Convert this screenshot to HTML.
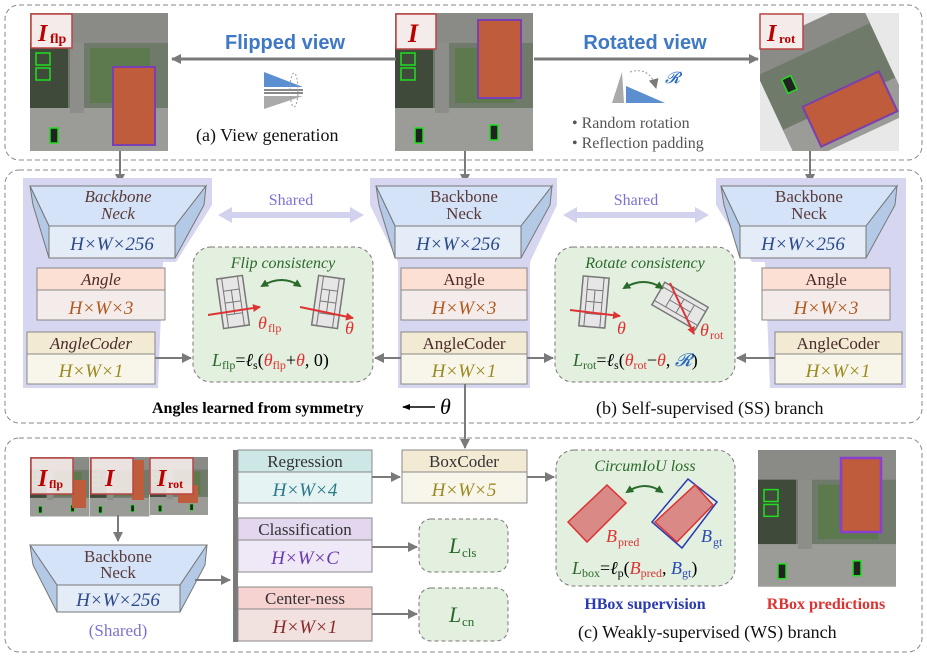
<!DOCTYPE html>
<html><head><meta charset="utf-8"><style>
html,body{margin:0;padding:0;background:#fff}
svg{display:block}
text{font-family:"Liberation Serif",serif}
</style></head><body>
<svg width="927" height="657" viewBox="0 0 927 657" xmlns="http://www.w3.org/2000/svg">
<defs>
<marker id="ah" markerWidth="10" markerHeight="10" refX="9" refY="5" orient="auto" markerUnits="userSpaceOnUse"><path d="M0,0 L10,5 L0,10 z" fill="#7a7a7a"/></marker>
<marker id="ahr" markerWidth="8" markerHeight="8" refX="7" refY="4" orient="auto" markerUnits="userSpaceOnUse"><path d="M0,0 L8,4 L0,8 z" fill="#d33"/></marker>
<marker id="ahg" markerWidth="8" markerHeight="8" refX="6" refY="4" orient="auto-start-reverse" markerUnits="userSpaceOnUse"><path d="M0,0 L8,4 L0,8 z" fill="#2a6a2a"/></marker>
<marker id="ahk" markerWidth="8" markerHeight="8" refX="7" refY="4" orient="auto" markerUnits="userSpaceOnUse"><path d="M0,1 L8,4 L0,7 z" fill="#000"/></marker>
<clipPath id="rotclip"><rect x="760" y="13" width="139" height="138"/></clipPath>
<g id="sat">
<rect x="0" y="0" width="138" height="138" fill="#6f7a6a"/>
<rect x="0" y="0" width="138" height="30" fill="#8a8a86"/>
<rect x="0" y="95" width="138" height="43" fill="#9b9b97"/>
<rect x="40" y="30" width="14" height="70" fill="#8d8d8a"/>
<rect x="60" y="35" width="60" height="55" fill="#5d7a4e"/>
<rect x="0" y="30" width="38" height="65" fill="#3f4a3a"/>
<rect x="6" y="40" width="14" height="12" fill="none" stroke="#2d2" stroke-width="1.5"/>
<rect x="6" y="55" width="14" height="12" fill="none" stroke="#2d2" stroke-width="1.5"/>
<rect x="20" y="115" width="8" height="15" fill="#222" stroke="#2d2" stroke-width="1.5"/>
<rect x="95" y="112" width="8" height="15" fill="#222" stroke="#2d2" stroke-width="1.5"/>
</g>
<g id="court"><rect x="-13" y="-25" width="26" height="50" fill="#e6e6e6" stroke="#777" stroke-width="1.5"/><line x1="-8" y1="-25" x2="-8" y2="25" stroke="#777"/><line x1="8" y1="-25" x2="8" y2="25" stroke="#777"/><line x1="-8" y1="-12" x2="8" y2="-12" stroke="#777"/><line x1="-8" y1="12" x2="8" y2="12" stroke="#777"/><line x1="0" y1="-12" x2="0" y2="12" stroke="#777"/><line x1="-8" y1="0" x2="8" y2="0" stroke="#777"/></g>
<g id="bb">
<polygon points="30,186 206,186 175,226 49,226" fill="#d4e3f7" stroke="#777"/>
<polygon points="30,186 49,226 49,258 33,205" fill="#b3c9e6" stroke="#777"/>
<polygon points="206,186 204,205 175,258 175,226" fill="#b3c9e6" stroke="#777"/>
<rect x="49" y="226" width="126" height="32" fill="#e4ecf8" stroke="#777"/>
</g>
</defs>

<!-- Panels -->
<rect x="5" y="5" width="917" height="155" rx="14" fill="none" stroke="#888" stroke-dasharray="5,3"/>
<rect x="5" y="170" width="917" height="253" rx="14" fill="none" stroke="#888" stroke-dasharray="5,3"/>
<rect x="5" y="438" width="917" height="214" rx="14" fill="none" stroke="#888" stroke-dasharray="5,3"/>

<!-- Top images -->
<g transform="translate(30,13)"><use href="#sat"/><rect x="83" y="54" width="42" height="78" fill="#bf5c3b" stroke="#7a3fb0" stroke-width="2"/></g>
<rect x="31" y="14" width="41" height="34" fill="#f4ecea" stroke="#b44" stroke-width="1.5"/>
<text x="38" y="41" font-size="24" font-weight="bold" font-style="italic" fill="#b00">I</text><text x="50" y="43" font-size="14" font-weight="bold" fill="#b00">flp</text>

<g transform="translate(395,13)"><use href="#sat"/><rect x="83" y="7" width="43" height="78" fill="#bf5c3b" stroke="#7a3fb0" stroke-width="2"/></g>
<rect x="396" y="14" width="40" height="35" fill="#f4ecea" stroke="#b44" stroke-width="1.5"/>
<text x="408" y="42" font-size="26" font-weight="bold" font-style="italic" fill="#b00">I</text>

<rect x="760" y="13" width="139" height="138" fill="#e8e8e8"/>
<g clip-path="url(#rotclip)">
<g transform="translate(829,82) rotate(-25) translate(-62,-62)"><rect width="124" height="124" fill="#6f7a6a"/><rect x="0" y="0" width="124" height="26" fill="#8a8a86"/><rect x="0" y="86" width="124" height="38" fill="#9b9b97"/><rect x="20" y="40" width="10" height="15" fill="#222" stroke="#2d2" stroke-width="1.5"/></g>
<g transform="translate(850,109) rotate(-25)"><rect x="-42" y="-22" width="84" height="44" fill="#bf5c3b" stroke="#7a3fb0" stroke-width="2"/></g>
</g>
<rect x="760" y="14" width="43" height="35" fill="#f4ecea" stroke="#b44" stroke-width="1.5"/>
<text x="767" y="41" font-size="24" font-weight="bold" font-style="italic" fill="#b00">I</text><text x="779" y="43" font-size="13" font-weight="bold" fill="#b00">rot</text>

<!-- Top arrows -->
<line x1="396" y1="59" x2="172" y2="59" stroke="#7a7a7a" stroke-width="3" marker-end="url(#ah)"/>
<line x1="534" y1="59" x2="758" y2="59" stroke="#7a7a7a" stroke-width="3" marker-end="url(#ah)"/>
<text x="285" y="49" font-size="20" font-weight="bold" fill="#3f78c4" text-anchor="middle" style="font-family:'Liberation Sans',sans-serif">Flipped view</text>
<text x="645" y="49" font-size="20" font-weight="bold" fill="#3f78c4" text-anchor="middle" style="font-family:'Liberation Sans',sans-serif">Rotated view</text>
<!-- flip icon -->
<path d="M264,72 L264,87 L303,87 Z" fill="#5b8fd0"/>
<rect x="264" y="89" width="39" height="2" fill="#888"/><rect x="264" y="92" width="39" height="2" fill="#888"/>
<path d="M264,96 L303,96 L264,109 Z" fill="#aaa"/>
<ellipse cx="294" cy="90" rx="4" ry="17" fill="none" stroke="#999" stroke-dasharray="2,2"/>
<!-- rotate icon -->
<path d="M612,103 L622,72 L624,103 Z" fill="#aaa"/>
<path d="M626,103 L626,86 L665,103 Z" fill="#5b8fd0"/>
<path d="M630,72 Q650,66 656,88" fill="none" stroke="#999" stroke-dasharray="2,2" marker-end="url(#ah)"/>
<text x="665" y="83" font-size="16" font-style="italic" fill="#2a6ac0">𝓡</text>
<text x="196" y="141" font-size="18" fill="#111">(a) View generation</text>
<text x="572" y="128" font-size="16" fill="#555">• Random rotation</text>
<text x="572" y="148" font-size="16" fill="#555">• Reflection padding</text>

<!-- connectors down -->
<line x1="120" y1="151" x2="120" y2="183" stroke="#7a7a7a" stroke-width="2" marker-end="url(#ah)"/>
<line x1="465" y1="151" x2="465" y2="183" stroke="#7a7a7a" stroke-width="2" marker-end="url(#ah)"/>
<line x1="810" y1="151" x2="810" y2="183" stroke="#7a7a7a" stroke-width="2" marker-end="url(#ah)"/>

<!-- Purple backgrounds -->
<polygon points="23,178 212,178 212,205 176,262 163,262 158,388 23,388" fill="#d6d6f0"/>
<polygon points="370,178 557,178 557,205 530,262 530,388 398,388 398,262 370,205" fill="#d6d6f0"/>
<polygon points="716,178 906,178 906,388 770,388 765,262 752,262 716,205" fill="#d6d6f0"/>

<use href="#bb"/>
<use href="#bb" transform="translate(346,0)"/>
<use href="#bb" transform="translate(691,0)"/>
<g font-size="17" text-anchor="middle" fill="#5a3a3a">
<text x="118" y="202" font-style="italic">Backbone</text><text x="118" y="219" font-style="italic">Neck</text>
<text x="464" y="202">Backbone</text><text x="464" y="219">Neck</text>
<text x="809" y="202">Backbone</text><text x="809" y="219">Neck</text>
</g>
<g font-size="19" text-anchor="middle" fill="#2b4a8a" font-style="italic">
<text x="112" y="250">H×W×256</text><text x="458" y="250">H×W×256</text><text x="803" y="250">H×W×256</text>
</g>

<!-- Angle/AngleCoder boxes -->
<g stroke="#888">
<rect x="37" y="268" width="128" height="22" fill="#fde0d4"/><rect x="37" y="290" width="128" height="30" fill="#f4ecea"/>
<rect x="27" y="332" width="128" height="22" fill="#f2ead2"/><rect x="27" y="354" width="128" height="30" fill="#f8f6ea"/>
<rect x="401" y="268" width="126" height="22" fill="#fde0d4"/><rect x="401" y="290" width="126" height="30" fill="#f4ecea"/>
<rect x="401" y="332" width="126" height="22" fill="#f2ead2"/><rect x="401" y="354" width="126" height="30" fill="#f8f6ea"/>
<rect x="762" y="268" width="128" height="22" fill="#fde0d4"/><rect x="762" y="290" width="128" height="30" fill="#f4ecea"/>
<rect x="775" y="332" width="127" height="22" fill="#f2ead2"/><rect x="775" y="354" width="127" height="30" fill="#f8f6ea"/>
</g>
<g font-size="17" text-anchor="middle" fill="#4a2a2a">
<text x="101" y="285" font-style="italic">Angle</text><text x="91" y="349" font-style="italic">AngleCoder</text>
<text x="464" y="285">Angle</text><text x="464" y="349">AngleCoder</text>
<text x="826" y="285">Angle</text><text x="838" y="349">AngleCoder</text>
</g>
<g font-size="19" text-anchor="middle" font-style="italic">
<text x="101" y="314" fill="#b05a20">H×W×3</text><text x="91" y="377" fill="#9a8a20">H×W×1</text>
<text x="464" y="314" fill="#b05a20">H×W×3</text><text x="464" y="377" fill="#9a8a20">H×W×1</text>
<text x="826" y="314" fill="#b05a20">H×W×3</text><text x="838" y="377" fill="#9a8a20">H×W×1</text>
</g>

<!-- Shared arrows -->
<path d="M218,215 L232,207 L232,212 L350,212 L350,207 L364,215 L350,223 L350,218 L232,218 L232,223 Z" fill="#d2d2ef"/>
<path d="M563,215 L577,207 L577,212 L695,212 L695,207 L709,215 L695,223 L695,218 L577,218 L577,223 Z" fill="#d2d2ef"/>
<text x="291" y="205" font-size="16" fill="#7a72d0" text-anchor="middle">Shared</text>
<text x="636" y="205" font-size="16" fill="#7a72d0" text-anchor="middle">Shared</text>

<!-- Flip consistency -->
<rect x="193" y="247" width="180" height="135" rx="18" fill="#e3efdf" stroke="#777" stroke-dasharray="4,3"/>
<text x="283" y="268" font-size="16" font-style="italic" fill="#2a6a2a" text-anchor="middle">Flip consistency</text>
<use href="#court" transform="translate(233,302) rotate(-8)"/>
<use href="#court" transform="translate(328,302) rotate(8)"/>
<line x1="208" y1="315" x2="260" y2="307" stroke="#d33" stroke-width="2" marker-end="url(#ahr)"/>
<line x1="300" y1="307" x2="353" y2="318" stroke="#d33" stroke-width="2" marker-end="url(#ahr)"/>
<path d="M262,286 Q282,274 300,286" fill="none" stroke="#2a6a2a" stroke-width="2" marker-start="url(#ahg)" marker-end="url(#ahg)"/>
<text x="258" y="329" font-size="18" font-style="italic" fill="#d33">θ</text><text x="268" y="332" font-size="12" fill="#d33">flp</text>
<text x="345" y="334" font-size="18" font-style="italic" fill="#d33">θ</text>
<text x="212" y="366" font-size="18"><tspan fill="#2a6a2a" font-style="italic">L</tspan><tspan fill="#2a6a2a" font-size="12" dy="3">flp</tspan><tspan dy="-3">=</tspan><tspan font-style="italic">ℓ</tspan><tspan font-size="12" dy="3">s</tspan><tspan dy="-3">(</tspan><tspan fill="#d33" font-style="italic">θ</tspan><tspan fill="#d33" font-size="12" dy="3">flp</tspan><tspan dy="-3">+</tspan><tspan fill="#d33" font-style="italic">θ</tspan><tspan>, 0)</tspan></text>

<!-- Rotate consistency -->
<rect x="555" y="247" width="180" height="135" rx="18" fill="#e3efdf" stroke="#777" stroke-dasharray="4,3"/>
<text x="645" y="268" font-size="16" font-style="italic" fill="#2a6a2a" text-anchor="middle">Rotate consistency</text>
<use href="#court" transform="translate(594,302) rotate(5)"/>
<use href="#court" transform="translate(680,306) rotate(-60)"/>
<line x1="570" y1="310" x2="620" y2="316" stroke="#d33" stroke-width="2" marker-end="url(#ahr)"/>
<line x1="670" y1="283" x2="694" y2="334" stroke="#d33" stroke-width="2" marker-end="url(#ahr)"/>
<path d="M624,288 Q644,276 662,288" fill="none" stroke="#2a6a2a" stroke-width="2" marker-start="url(#ahg)" marker-end="url(#ahg)"/>
<text x="617" y="334" font-size="18" font-style="italic" fill="#d33">θ</text>
<text x="700" y="336" font-size="18" font-style="italic" fill="#d33">θ</text><text x="710" y="339" font-size="12" fill="#d33">rot</text>
<text x="573" y="366" font-size="18"><tspan fill="#2a6a2a" font-style="italic">L</tspan><tspan fill="#2a6a2a" font-size="12" dy="3">rot</tspan><tspan dy="-3">=</tspan><tspan font-style="italic">ℓ</tspan><tspan font-size="12" dy="3">s</tspan><tspan dy="-3">(</tspan><tspan fill="#d33" font-style="italic">θ</tspan><tspan fill="#d33" font-size="12" dy="3">rot</tspan><tspan dy="-3">−</tspan><tspan fill="#d33" font-style="italic">θ</tspan><tspan>, </tspan><tspan fill="#2a6ac0" font-style="italic">𝓡</tspan><tspan>)</tspan></text>

<!-- arrows into consistency boxes -->
<line x1="155" y1="358" x2="191" y2="358" stroke="#7a7a7a" stroke-width="2" marker-end="url(#ah)"/>
<line x1="401" y1="358" x2="375" y2="358" stroke="#7a7a7a" stroke-width="2" marker-end="url(#ah)"/>
<line x1="527" y1="358" x2="553" y2="358" stroke="#7a7a7a" stroke-width="2" marker-end="url(#ah)"/>
<line x1="775" y1="358" x2="737" y2="358" stroke="#7a7a7a" stroke-width="2" marker-end="url(#ah)"/>

<text x="152" y="413" font-size="16" font-weight="bold" fill="#000">Angles learned from symmetry</text>
<line x1="435" y1="407" x2="403" y2="407" stroke="#000" stroke-width="1.5" marker-end="url(#ahk)"/>
<text x="440" y="414" font-size="22" font-style="italic">θ</text>
<text x="596" y="414" font-size="18" fill="#111">(b) Self-supervised (SS) branch</text>
<line x1="465" y1="384" x2="465" y2="448" stroke="#7a7a7a" stroke-width="2" marker-end="url(#ah)"/>

<!-- Bottom panel -->
<g transform="translate(30,457) scale(0.43)"><use href="#sat"/></g>
<g transform="translate(90,457) scale(0.43)"><use href="#sat"/></g>
<g transform="translate(150,457) scale(0.42)"><use href="#sat"/></g>
<rect x="72" y="480" width="14" height="28" fill="#bf5c3b"/><rect x="132" y="460" width="12" height="40" fill="#bf5c3b"/><rect x="178" y="485" width="20" height="18" fill="#bf5c3b"/>
<g stroke="#b44" stroke-width="1.5" fill="#f4ecea" fill-opacity="0.9">
<rect x="31" y="458" width="42" height="36"/><rect x="91" y="458" width="42" height="36"/><rect x="150" y="458" width="43" height="36"/></g>
<text x="38" y="486" font-size="24" font-weight="bold" font-style="italic" fill="#b00">I</text><text x="49" y="488" font-size="12" font-weight="bold" fill="#b00">flp</text>
<text x="105" y="486" font-size="24" font-weight="bold" font-style="italic" fill="#b00">I</text>
<text x="157" y="486" font-size="24" font-weight="bold" font-style="italic" fill="#b00">I</text><text x="168" y="488" font-size="12" font-weight="bold" fill="#b00">rot</text>
<line x1="118" y1="515" x2="118" y2="541" stroke="#7a7a7a" stroke-width="2" marker-end="url(#ah)"/>

<polygon points="30,545 207,545 180,585 57,585" fill="#d4e3f7" stroke="#777"/>
<polygon points="30,545 57,585 57,612 33,565" fill="#b3c9e6" stroke="#777"/>
<polygon points="207,545 205,565 180,612 180,585" fill="#b3c9e6" stroke="#777"/>
<rect x="57" y="585" width="123" height="27" fill="#e4ecf8" stroke="#777"/>
<text x="118" y="562" font-size="17" text-anchor="middle" fill="#5a3a3a">Backbone</text>
<text x="118" y="578" font-size="17" text-anchor="middle" fill="#5a3a3a">Neck</text>
<text x="118" y="606" font-size="19" text-anchor="middle" fill="#2b4a8a" font-style="italic">H×W×256</text>
<text x="118" y="636" font-size="17" text-anchor="middle" fill="#7a72d0">(Shared)</text>
<line x1="195" y1="580" x2="230" y2="580" stroke="#7a7a7a" stroke-width="2" marker-end="url(#ah)"/>

<rect x="233" y="450" width="5" height="192" fill="#7a7a7a"/>
<g stroke="#888">
<rect x="238" y="450" width="134" height="22" fill="#cde6e6"/><rect x="238" y="472" width="134" height="31" fill="#e6f3f3"/>
<rect x="238" y="518" width="134" height="22" fill="#e3d6ef"/><rect x="238" y="540" width="134" height="32" fill="#efe8f6"/>
<rect x="238" y="587" width="134" height="22" fill="#f6d2d0"/><rect x="238" y="609" width="134" height="32" fill="#f1e2e0"/>
<rect x="402" y="450" width="125" height="22" fill="#f2ead2"/><rect x="402" y="472" width="125" height="31" fill="#f8f6ea"/>
</g>
<g font-size="17" text-anchor="middle" fill="#333">
<text x="305" y="467">Regression</text><text x="305" y="535">Classification</text><text x="305" y="604">Center-ness</text><text x="464" y="467">BoxCoder</text>
</g>
<g font-size="19" text-anchor="middle" font-style="italic">
<text x="305" y="496" fill="#2a7a8a">H×W×4</text><text x="305" y="564" fill="#6a3ab0">H×W×C</text><text x="305" y="633" fill="#8a2a2a">H×W×1</text><text x="464" y="496" fill="#9a8a20">H×W×5</text>
</g>
<line x1="372" y1="477" x2="400" y2="477" stroke="#7a7a7a" stroke-width="2" marker-end="url(#ah)"/>
<line x1="372" y1="547" x2="417" y2="547" stroke="#7a7a7a" stroke-width="2" marker-end="url(#ah)"/>
<line x1="372" y1="614" x2="417" y2="614" stroke="#7a7a7a" stroke-width="2" marker-end="url(#ah)"/>
<rect x="419" y="519" width="89" height="53" rx="12" fill="#e3efdf" stroke="#777" stroke-dasharray="4,3"/>
<rect x="419" y="588" width="89" height="53" rx="12" fill="#e3efdf" stroke="#777" stroke-dasharray="4,3"/>
<text x="449" y="553" font-size="22" font-style="italic" fill="#2a6a2a">L</text><text x="462" y="557" font-size="13" fill="#2a6a2a">cls</text>
<text x="449" y="622" font-size="22" font-style="italic" fill="#2a6a2a">L</text><text x="462" y="626" font-size="13" fill="#2a6a2a">cn</text>

<line x1="527" y1="477" x2="554" y2="477" stroke="#7a7a7a" stroke-width="2" marker-end="url(#ah)"/>
<rect x="556" y="450" width="179" height="136" rx="18" fill="#e3efdf" stroke="#777" stroke-dasharray="4,3"/>
<text x="645" y="471" font-size="16" font-style="italic" fill="#2a6a2a" text-anchor="middle">CircumIoU loss</text>
<polygon points="568,522 607,485 626,503 587,542" fill="#d98a86" stroke="#d33" stroke-width="1.5"/>
<polygon points="652,522 688,479 717,502 682,548" fill="none" stroke="#2a3ab0" stroke-width="1.5"/>
<polygon points="655,522 695,485 713,505 677,542" fill="#d98a86" stroke="#d33" stroke-width="1.5"/>
<path d="M627,492 Q645,480 662,492" fill="none" stroke="#2a6a2a" stroke-width="2" marker-start="url(#ahg)" marker-end="url(#ahg)"/>
<text x="606" y="542" font-size="18" font-style="italic" fill="#d33">B</text><text x="618" y="546" font-size="12" fill="#d33">pred</text>
<text x="701" y="542" font-size="18" font-style="italic" fill="#2a4ab0">B</text><text x="713" y="546" font-size="12" fill="#2a4ab0">gt</text>
<text x="572" y="574" font-size="18"><tspan fill="#2a6a2a" font-style="italic">L</tspan><tspan fill="#2a6a2a" font-size="12" dy="3">box</tspan><tspan dy="-3">=</tspan><tspan font-style="italic">ℓ</tspan><tspan font-size="12" dy="3">p</tspan><tspan dy="-3">(</tspan><tspan fill="#d33" font-style="italic">B</tspan><tspan fill="#d33" font-size="12" dy="3">pred</tspan><tspan dy="-3">, </tspan><tspan fill="#2a4ab0" font-style="italic">B</tspan><tspan fill="#2a4ab0" font-size="12" dy="3">gt</tspan><tspan dy="-3">)</tspan></text>
<text x="645" y="609" font-size="16" font-weight="bold" fill="#2a3ab0" text-anchor="middle">HBox supervision</text>

<g transform="translate(758,450) scale(1,0.99)"><use href="#sat"/></g>
<rect x="841" y="458" width="40" height="74" fill="#bf5c3b" stroke="#8a3fd0" stroke-width="2.5"/>
<text x="826" y="609" font-size="16" font-weight="bold" fill="#d33" text-anchor="middle">RBox predictions</text>
<text x="578" y="638" font-size="18" fill="#111">(c) Weakly-supervised (WS) branch</text>
</svg>
</body></html>
